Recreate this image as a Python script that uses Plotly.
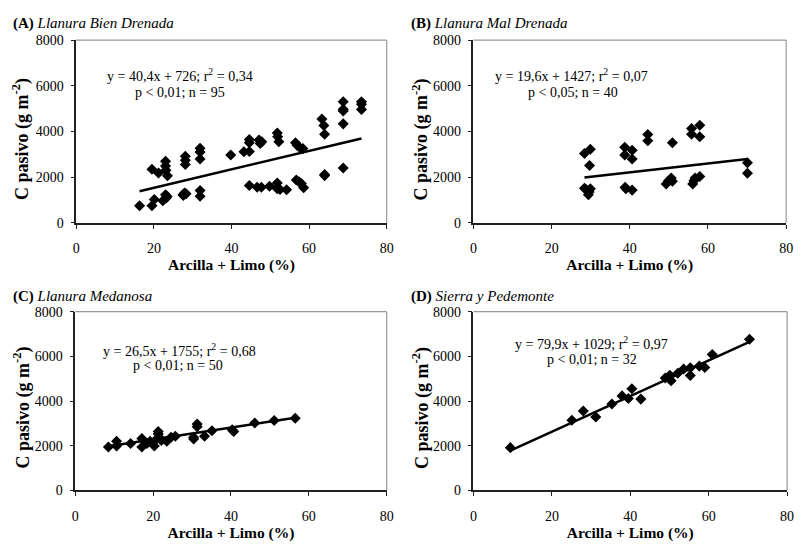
import plotly.graph_objects as go

# ---------- data ----------
a_x = [16.3, 19.5, 19.5, 20.1, 21.2, 22.3, 23.0, 23.0, 23.0, 23.4, 23.2, 23.5, 23.1,
       27.5, 27.9, 28.3, 28.1, 28.1, 28.1, 27.6, 31.9, 31.9, 31.9, 31.9, 31.9,
       39.8, 43.2, 44.6, 44.6, 44.6, 44.6, 46.6, 47.1, 47.4, 47.8, 47.7, 49.8,
       51.8, 51.9, 52.2, 51.8, 51.8, 52.5, 54.2, 56.5, 56.9, 57.6, 58.4,
       56.7, 57.4, 58.0, 58.6, 63.3, 63.8, 64.0, 64.0, 64.0,
       68.8, 68.8, 68.8, 68.8, 68.8, 73.5, 73.5, 73.5]
a_y = [753, 753, 2345, 1023, 2188, 966, 2700, 2487, 1236, 1160, 1090, 2060, 2300,
       1236, 1310, 1280, 2913, 2742, 2558, 1200, 3268, 3098, 2800, 1421, 1165,
       2970, 3112, 3652, 3510, 3126, 1634, 1563, 3624, 3480, 3553, 1563, 1606,
       3936, 3766, 3553, 1748, 1492, 1460, 1450, 3510, 3400, 3297, 3255,
       1876, 1800, 1720, 1535, 4547, 4263, 3880, 2117, 2070,
       5300, 4973, 4902, 4334, 2402, 5300, 5187, 4960]

b_x = [28.4, 29.9, 29.7, 28.4, 28.8, 29.4, 29.6, 29.9, 38.7, 38.7, 38.8, 39.0,
       40.6, 40.6, 40.6, 44.6, 44.6, 50.9, 49.3, 49.9, 50.6, 50.9,
       55.8, 55.8, 57.9, 57.9, 56.1, 56.4, 56.7, 57.9, 70.1, 70.1]
b_y = [3041, 3226, 2515, 1520, 1465, 1236, 1350, 1492, 3311, 2970, 1563, 1500,
       3183, 2800, 1435, 3865, 3595, 3510, 1705, 1847, 1961, 1819,
       4135, 3880, 4277, 3766, 1705, 1847, 1960, 2032, 2629, 2174]

c_x = [8.5, 10.6, 10.6, 14.2, 17.1, 17.1, 18.4, 19.2, 20.3, 20.3, 21.3, 21.3, 21.7,
       22.1, 23.5, 24.6, 25.7, 30.4, 30.4, 31.3, 31.3, 33.2, 35.1, 40.3, 40.7,
       46.1, 51.1, 56.5]
c_y = [1942, 2202, 1985, 2101, 2318, 1942, 2101, 2202, 1985, 2202, 2637, 2521, 2350,
       2230, 2202, 2376, 2420, 2376, 2300, 2970, 2854, 2420, 2666, 2710, 2640,
       3014, 3130, 3231]

d_x = [9.4, 25.1, 28.0, 31.2, 35.3, 37.9, 39.5, 40.4, 42.7, 48.9, 50.1, 50.4,
       52.1, 53.6, 55.3, 55.3, 57.6, 59.0, 60.9, 70.4]
d_y = [1913, 3144, 3550, 3289, 3869, 4231, 4115, 4550, 4086, 5028, 5158, 4912,
       5245, 5434, 5492, 5144, 5564, 5506, 6086, 6767]

slopes = [40.4, 19.6, 26.5, 79.9]
intercepts = [726, 1427, 1755, 1029]
panel_letters = ["(A)", "(B)", "(C)", "(D)"]
panel_names = ["Llanura Bien Drenada", "Llanura Mal Drenada",
               "Llanura Medanosa", "Sierra y Pedemonte"]
eq_line1 = ["y = 40,4x + 726; r<sup>2</sup> = 0,34",
            "y = 19,6x + 1427; r<sup>2</sup> = 0,07",
            "y = 26,5x + 1755; r<sup>2</sup> = 0,68",
            "y = 79,9x + 1029; r<sup>2</sup> = 0,97"]
eq_line2 = ["p &lt; 0,01; n = 95", "p &lt; 0,05; n = 40",
            "p &lt; 0,01; n = 50", "p &lt; 0,01; n = 32"]
eq1_pos = [(26.7, 6468), (25.0, 6468), (26.7, 6271), (30.1, 6619)]
eq2_pos = [(26.7, 5702), (25.5, 5702), (26.5, 5574), (30.2, 5879)]
x_ticks = [0, 20, 40, 60, 80]
y_ticks = [0, 2000, 4000, 6000, 8000]
x_title = "Arcilla + Limo (%)"
y_title = "C pasivo (g m<sup>-2</sup>)"

xs = [a_x, b_x, c_x, d_x]
ys = [a_y, b_y, c_y, d_y]

# ---------- layout geometry (pixels of the 803x547 page) ----------
W, H = 803, 547
xdoms = [[73.3 / W, 388 / W], [476 / W, 793 / W], [72.3 / W, 388 / W], [476 / W, 794 / W]]
ydoms = [[1 - 222 / H, 1 - 34 / H], [1 - 222 / H, 1 - 34 / H],
         [1 - 497 / H, 1 - 313.3 / H], [1 - 497 / H, 1 - 313.3 / H]]
title_pos = [(7, 17), (411, 17), (7, 298), (411, 298)]
ytitle_pos = [(18, 136), (423, 136), (18, 412), (423, 412)]

FONT = "Liberation Serif"
fig = go.Figure()
shapes = []
annotations = []
for i in range(4):
    ax = "" if i == 0 else str(i + 1)
    xa, ya = "x" + ax, "y" + ax
    fig.add_trace(go.Scatter(x=xs[i], y=ys[i], mode="markers", xaxis=xa, yaxis=ya,
                             marker=dict(symbol="diamond", size=8.5, color="black"),
                             showlegend=False))
    x0, x1 = min(xs[i]), max(xs[i])
    fig.add_trace(go.Scatter(x=[x0, x1],
                             y=[slopes[i] * x0 + intercepts[i], slopes[i] * x1 + intercepts[i]],
                             mode="lines", xaxis=xa, yaxis=ya,
                             line=dict(color="black", width=2.5), showlegend=False))
    axis_common = dict(showgrid=False, zeroline=False, showline=True, linecolor="#222222",
                       linewidth=1.5, ticks="outside", ticklen=4, tickcolor="#222222",
                       tickwidth=1, tickfont=dict(family=FONT, size=14, color="black"))
    fig.layout["xaxis" + ax] = dict(domain=xdoms[i], range=[0, 80], tickvals=x_ticks,
                                    anchor=ya, ticklabelstandoff=8,
                                    title=dict(text="<b>" + x_title + "</b>", standoff=0,
                                               font=dict(family=FONT, size=15.5, color="black")),
                                    **axis_common)
    fig.layout["yaxis" + ax] = dict(domain=ydoms[i], range=[0, 8000], tickvals=y_ticks,
                                    anchor=xa, ticklabelstandoff=4, **axis_common)
    shapes.append(dict(type="line", xref=xa + " domain", yref=ya + " domain",
                       x0=0, x1=1, y0=1, y1=1, line=dict(color="#999999", width=1.2)))
    shapes.append(dict(type="line", xref=xa + " domain", yref=ya + " domain",
                       x0=1, x1=1, y0=0, y1=1, line=dict(color="#999999", width=1.2)))
    tx, ty = title_pos[i]
    annotations.append(dict(xref="paper", yref="paper", x=tx / W, y=1 - ty / H,
                            xanchor="left", yanchor="middle", showarrow=False,
                            text="<b>" + panel_letters[i] + "</b> <i>" + panel_names[i] + "</i>",
                            font=dict(family=FONT, size=15, color="black")))
    yx, yy = ytitle_pos[i]
    annotations.append(dict(xref="paper", yref="paper", x=yx / W, y=1 - yy / H,
                            xanchor="center", yanchor="middle", showarrow=False,
                            textangle=-90, text="<b>" + y_title + "</b>",
                            font=dict(family=FONT, size=18, color="black")))
    annotations.append(dict(xref=xa, yref=ya, x=eq1_pos[i][0], y=eq1_pos[i][1],
                            xanchor="center", yanchor="middle", showarrow=False,
                            text=eq_line1[i], font=dict(family=FONT, size=14, color="black")))
    annotations.append(dict(xref=xa, yref=ya, x=eq2_pos[i][0], y=eq2_pos[i][1],
                            xanchor="center", yanchor="middle", showarrow=False,
                            text=eq_line2[i], font=dict(family=FONT, size=14, color="black")))

fig.update_layout(width=W, height=H, margin=dict(l=0, r=0, t=0, b=0),
                  paper_bgcolor="white", plot_bgcolor="white",
                  shapes=shapes, annotations=annotations,
                  font=dict(family=FONT, color="black"))
fig.write_html("out.html")
